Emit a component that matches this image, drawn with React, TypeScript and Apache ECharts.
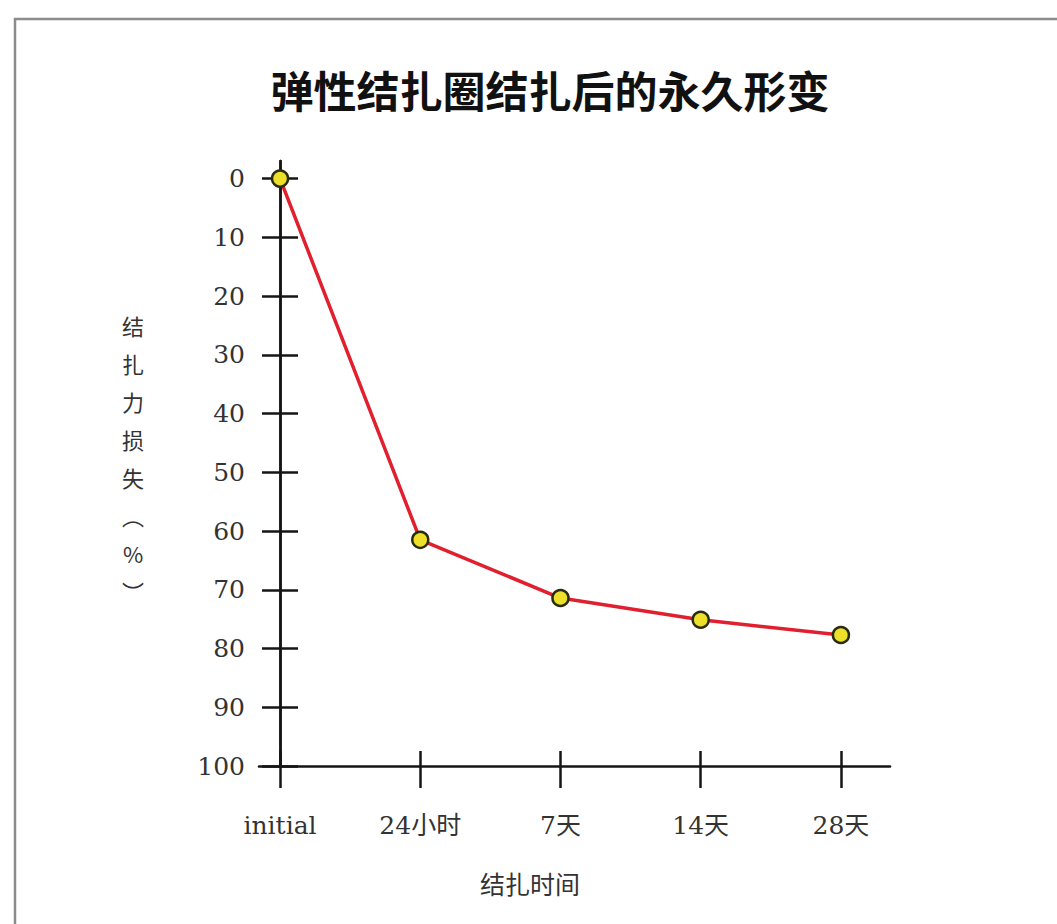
import React, { useEffect, useRef } from "react";
import * as echarts from "echarts";

// Ligation time points and the corresponding force loss (%)
const categories = ["initial", "24小时", "7天", "14天", "28天"];
const forceLoss = [0, 61.5, 71.4, 75.1, 77.7];
const yTicks = [0, 10, 20, 30, 40, 50, 60, 70, 80, 90, 100];
const xTicks = [0, 1, 2, 3, 4];

const titleText = "弹性结扎圈结扎后的永久形变";
const yName = ["结", "扎", "力", "损", "失", "︵", "%", "︶"];
const xName = "结扎时间";

const serif = "'DejaVu Serif', 'Liberation Serif', 'Noto Sans CJK SC', serif";
const cjk = "'Noto Sans CJK SC', sans-serif";

export default function App() {
  const ref = useRef<HTMLDivElement>(null);

  useEffect(() => {
    if (!ref.current) return;
    const chart = echarts.init(ref.current, null, { renderer: "svg" });
    const axisColor = "#151515";
    const tickStyle = { color: axisColor, width: 2.5 };

    chart.setOption({
      animation: false,
      backgroundColor: "#ffffff",
      grid: { left: 259, right: 167, top: 161, bottom: 158, containLabel: false },
      xAxis: [
        {
          type: "value",
          min: -0.15,
          max: 4.35,
          position: "bottom",
          axisLine: { show: true, onZero: false, lineStyle: { color: axisColor, width: 2.5 } },
          axisTick: { show: true, customValues: xTicks, length: 22, lineStyle: tickStyle },
          axisLabel: {
            customValues: xTicks,
            formatter: (v: number) => categories[Math.round(v)] ?? "",
            margin: 47,
            color: "#333",
            fontSize: 25,
            fontFamily: serif,
          },
          splitLine: { show: false },
        },
        {
          type: "value",
          min: -0.15,
          max: 4.35,
          position: "bottom",
          axisLine: { show: false, onZero: false },
          axisTick: { show: true, inside: true, customValues: xTicks, length: 15, lineStyle: tickStyle },
          axisLabel: { show: false },
          splitLine: { show: false },
        },
      ],
      yAxis: [
        {
          type: "value",
          inverse: true,
          min: -3,
          max: 100,
          position: "left",
          axisLine: { show: true, onZero: true, lineStyle: { color: axisColor, width: 2.5 } },
          axisTick: { show: true, customValues: yTicks, length: 18, lineStyle: tickStyle },
          axisLabel: {
            customValues: yTicks,
            margin: 14,
            color: "#333",
            fontSize: 25,
            fontFamily: serif,
          },
          splitLine: { show: false },
        },
        {
          type: "value",
          inverse: true,
          min: -3,
          max: 100,
          position: "right",
          axisLine: { show: true, onZero: true, lineStyle: { color: axisColor, width: 2.5 } },
          axisTick: { show: true, customValues: yTicks, length: 18, lineStyle: tickStyle },
          axisLabel: { show: false },
          splitLine: { show: false },
        },
      ],
      series: [
        {
          type: "line",
          xAxisIndex: 0,
          yAxisIndex: 0,
          data: forceLoss.map((v, i) => [i, v]),
          lineStyle: { color: "#e0202e", width: 3.5 },
          symbol: "circle",
          symbolSize: 16,
          itemStyle: { color: "#ece02a", borderColor: "#2b2b12", borderWidth: 2.5 },
          z: 5,
        },
      ],
      graphic: [
        {
          type: "rect",
          shape: { x: 15, y: 19, width: 1200, height: 1000 },
          style: { fill: "none", stroke: "#8c8c8c", lineWidth: 2.5 },
          silent: true,
        },
        {
          type: "text",
          x: 550,
          y: 89,
          style: {
            text: titleText,
            textAlign: "center",
            textVerticalAlign: "middle",
            fontSize: 43,
            fontWeight: "bold",
            fontFamily: cjk,
            fill: "#111",
          },
        },
        {
          type: "text",
          x: 133,
          y: 458,
          style: {
            text: yName.join("\n"),
            textAlign: "center",
            textVerticalAlign: "middle",
            fontSize: 22,
            lineHeight: 38,
            fontFamily: cjk,
            fill: "#333",
          },
        },
        {
          type: "text",
          x: 530,
          y: 883,
          style: {
            text: xName,
            textAlign: "center",
            textVerticalAlign: "middle",
            fontSize: 25,
            fontFamily: cjk,
            fill: "#333",
          },
        },
      ],
    });

    return () => chart.dispose();
  }, []);

  return (
    <div
      ref={ref}
      style={{ position: "absolute", left: 0, top: 0, width: 1057, height: 924, background: "#fff" }}
    />
  );
}
